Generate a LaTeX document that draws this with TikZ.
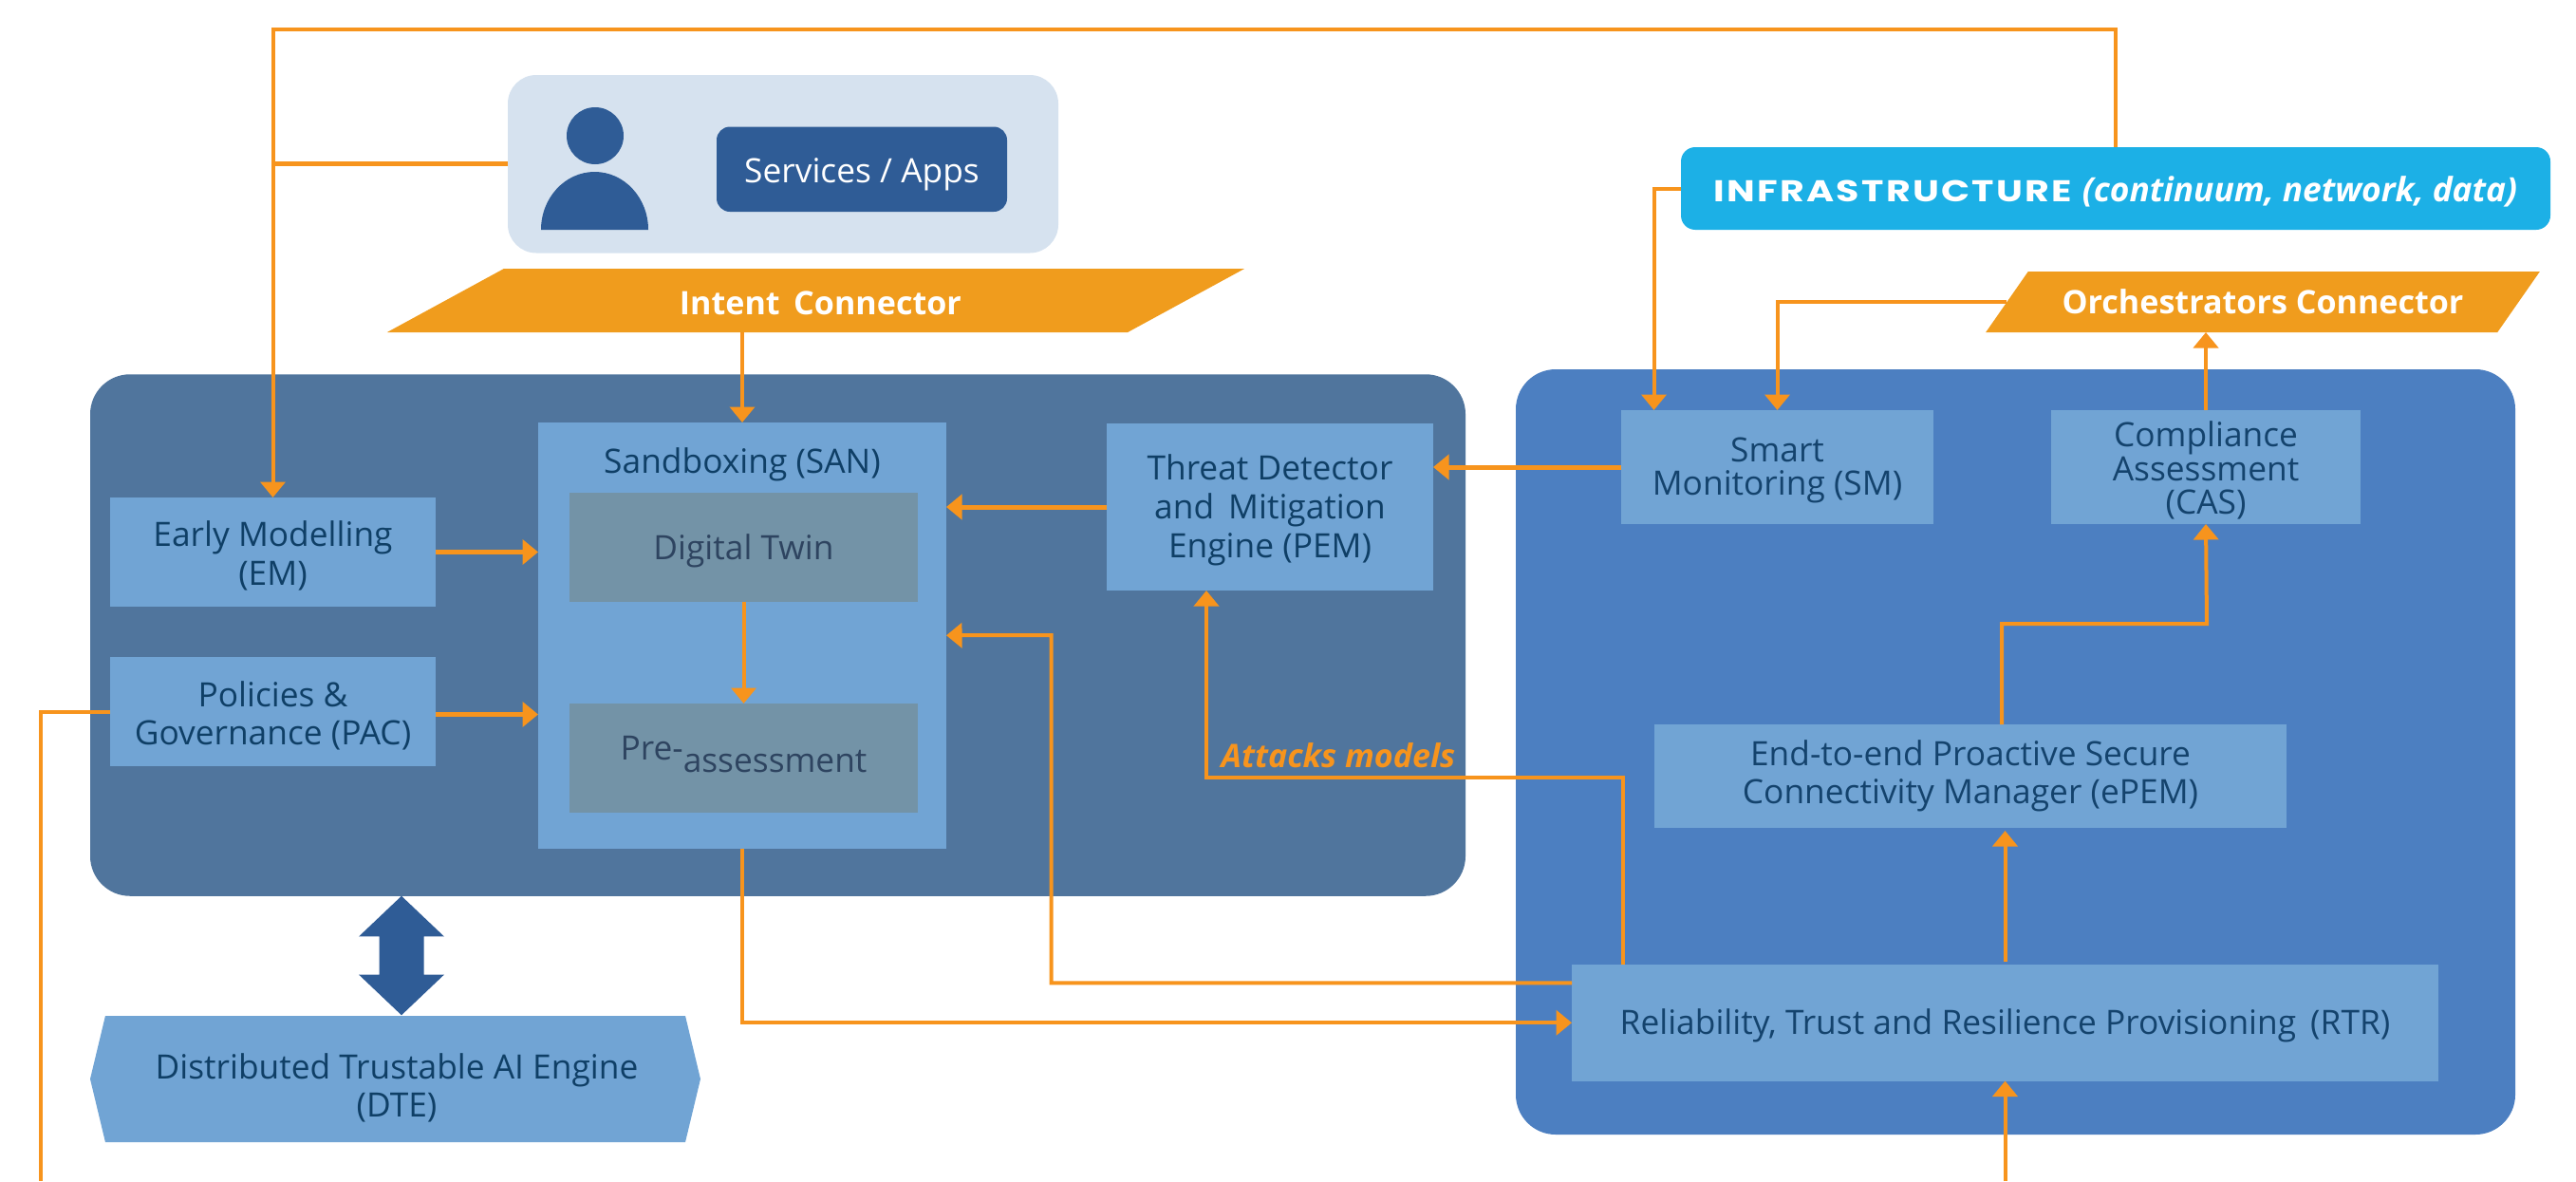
\documentclass[tikz,border=0pt]{standalone}
\usepackage{fontspec}
\setmainfont{Open Sans}
\newfontfamily\techfont[LetterSpace=7,FakeStretch=1.25]{Poppins}
\usetikzlibrary{arrows.meta,shapes.geometric,shapes.symbols,shapes.arrows}
\definecolor{wire}{HTML}{F7941D}
\definecolor{connector}{HTML}{F09C1D}
\definecolor{panelleft}{HTML}{50759D}
\definecolor{panelright}{HTML}{4C7FC1}
\definecolor{boxfill}{HTML}{71A4D4}
\definecolor{boxtext}{HTML}{0F3F66}
\definecolor{twinfill}{HTML}{7393A7}
\definecolor{twintext}{HTML}{2E4460}
\definecolor{navy}{HTML}{2F5C96}
\definecolor{userfill}{HTML}{D6E2EF}
\definecolor{infrafill}{HTML}{1CB0E6}

\begin{document}
\begin{tikzpicture}[->,>={Triangle[length=.165cm,width=.26cm]},line width=.04cm,
                    draw=wire,color=wire,every node/.style={inner sep=0pt,outer sep=0pt,align=center,
                    font=\fontsize{10.05}{11.4}\selectfont}]
  \tikzstyle{low}=[execute at begin node={\rule{0pt}{#1}}]
  \tikzstyle{tight}=[font=\fontsize{10.05}{10.1}\selectfont]
  \tikzstyle{wide}=[font=\fontsize{10.05}{11.7}\selectfont]
  \tikzstyle{heavy}=[line width=.05cm]
  \tikzstyle{panel}=[fill=panelleft,rounded corners=.42cm]
  \tikzstyle{block}=[fill=boxfill,text=boxtext]
  \tikzstyle{blockb}=[block,text=boxtext!85!navy]
  \tikzstyle{twin}=[fill=twinfill,text=twintext,minimum width=3.67cm,minimum height=1.15cm]
  \tikzstyle{connect}=[trapezium,trapezium stretches=true,fill=connector,text=white,
                       font=\fontsize{9.7}{11.4}\selectfont\bfseries]
  \useasboundingbox (0,0) rectangle (27.14,-12.44);

  % backgrounds
  \node[panel,minimum width=14.49cm,minimum height=5.495cm] (left) at (8.195,-6.69) {};
  \node[panel,fill=panelright,minimum width=10.53cm,minimum height=8.06cm] (right) at (21.235,-7.92) {};
  \node[fill=userfill,rounded corners=.3cm,minimum width=5.8cm,minimum height=1.875cm] (user) at (8.25,-1.7275) {};

  % user
  \node[circle,fill=navy,minimum size=.6cm] (head) at (6.27,-1.43) {};
  \fill[navy] (5.70,-2.42) arc[start angle=180,end angle=0,x radius=.565cm,y radius=.61cm] -- cycle;
  \node[low=10.6pt,fill=navy,text=white,rounded corners=.14cm,minimum width=3.06cm,minimum height=.895cm] (apps) at (9.08,-1.7825) {Services / Apps};

  % connectors
  \node[connect,low=8.6pt,trapezium left angle=28,trapezium right angle=152,minimum width=9.05cm,minimum height=.67cm] (intent) at (8.595,-3.165) {\hspace*{2.8pt}Intent\, Connector};
  \node[connect,trapezium left angle=34.5,trapezium right angle=145.5,minimum width=5.84cm,minimum height=.64cm] (orch) at (23.84,-3.18) {Orchestrators Connector};
  \node[low=9.6pt,fill=infrafill,text=white,rounded corners=.15cm,minimum width=9.16cm,minimum height=.87cm] (infra) at (22.29,-1.985)
       {{\fontsize{9}{11.4}\techfont\bfseries INFRASTRUCTURE} \textbf{\textit{(continuum, network, data)}}};

  % left panel
  \node[block,wide,low=21.75pt,minimum width=3.43cm,minimum height=1.15cm] (em) at (2.875,-5.815) {Early Modelling\\(EM)};
  \node[block,low=21.5pt,minimum width=3.43cm,minimum height=1.15cm] (pac) [below of=em,node distance=1.68cm] {Policies \&\\Governance (PAC)};
  \node[block,minimum width=4.30cm,minimum height=4.485cm] (san) at (7.82,-6.6925) {};
  \node[low=10.6pt,text=boxtext] (santitle) at (7.82,-4.84) {Sandboxing (SAN)};
  \node[twin,low=9.6pt] (dtw) at (7.835,-5.765) {Digital Twin};
  \node[twin] (pre) at (7.835,-7.985) {\raisebox{3.7pt}{Pre-}assessment\rule[-2.5pt]{0pt}{2.5pt}};
  \node[block,wide,low=33pt,minimum width=3.44cm,minimum height=1.76cm] (pem) at (13.38,-5.34) {Threat Detector\\and\, Mitigation\\Engine (PEM)};

  % right panel
  \node[blockb,tight,low=19.2pt,minimum width=3.29cm,minimum height=1.2cm] (sm) at (18.725,-4.92) {Smart\\Monitoring (SM)};
  \node[blockb,tight,low=29.8pt,minimum width=3.26cm,minimum height=1.2cm] (cas) at (23.24,-4.92) {Compliance\\Assessment\\(CAS)};
  \node[blockb,minimum width=6.66cm,minimum height=1.085cm] (epem) at (20.76,-8.1725) {End-to-end Proactive Secure\\Connectivity Manager (ePEM)};
  \node[blockb,low=9.6pt,minimum width=9.13cm,minimum height=1.225cm] (rtr) at (21.125,-10.7725) {Reliability, Trust and Resilience Provisioning\, (RTR)};

  % engine
  \node[signal,signal to=east and west,signal pointer angle=153,fill=boxfill,minimum width=6.43cm,minimum height=1.33cm] (dte) at (4.165,-11.365) {};
  \node[text=boxtext] (dtelabel) at (4.18,-11.46) {Distributed Trustable AI Engine\\(DTE)};
  \node[double arrow,shape border rotate=90,inner sep=.215cm,double arrow head extend=.215cm,double arrow tip angle=93,fill=navy,minimum height=1.255cm,minimum width=.86cm] (link) at (4.23,-10.065) {};

  \coordinate (topbend) at (2.875,-.31);
  \coordinate (sanin) at (11.075,-6.69);
  \coordinate (attack) at (12.71,-8.19);
  \coordinate (casin) at (23.25,-6.57);
  \coordinate (pacend) at (.43,-12.44);
  \coordinate (rtrend) at (21.125,-12.44);

  \path (infra.north) edge [to path={|- (topbend) -- (\tikztotarget)}] (em.north)
        (user.west) edge [-,heavy] (user.west -| em.north)
        (intent.south -| san.north) edge (san.north)
        (em.east) edge [heavy] (em.east -| san.west)
        ([yshift=-.03cm]pac.east) edge [heavy] ([yshift=-.03cm]pac.east -| san.west)
        (pem.west) edge [heavy] (pem.west -| san.east)
        (sm.west) edge [heavy] (sm.west -| pem.east)
        (dtw.south) edge (pre.north)
        (san.south) edge [to path={|- (\tikztotarget)}] (rtr.west)
        ([yshift=.42cm]rtr.west) edge [to path={-| (sanin) -- (\tikztotarget)}] (san.east)
        ([xshift=-4.025cm]rtr.north) edge [to path={|- (attack) -- (\tikztotarget)}] ([xshift=-.67cm]pem.south)
        (infra.west) edge [to path={-| (\tikztotarget)}] ([xshift=-1.3cm]sm.north)
        (orch.west) edge [to path={-| (\tikztotarget)}] (sm.north)
        (cas.north) edge (cas.north |- orch.south)
        ([xshift=.33cm]epem.north) edge [to path={|- (casin) -- (\tikztotarget)}] (cas.south)
        ([yshift=.03cm]rtr.north) edge [shorten >=.035cm] (rtr.north |- epem.south)
        (rtrend) edge (rtr.south)
        (pac.west) edge [-,to path={-| (\tikztotarget)}] (pacend);

  \node[text=wire,font=\fontsize{9.7}{11.4}\selectfont\bfseries\itshape] (attacklabel) at (14.10,-7.96) {Attacks models};
\end{tikzpicture}
\end{document}
